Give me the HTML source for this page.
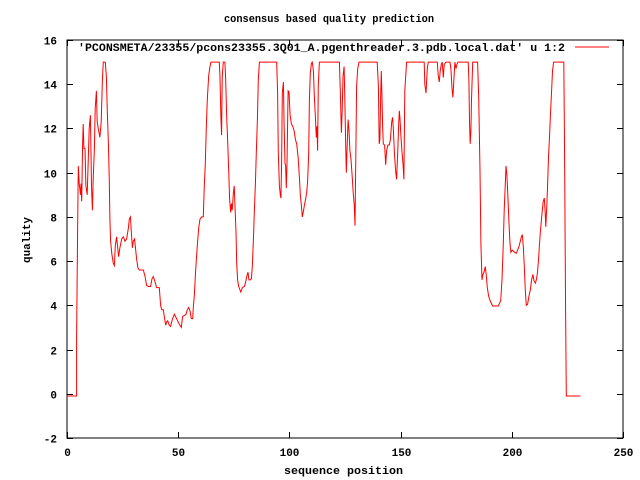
<!DOCTYPE html>
<html><head><meta charset="utf-8"><style>
html,body{margin:0;padding:0;background:#fff;}
svg{display:block;font-family:"Liberation Mono",monospace;font-weight:bold;font-size:11px;}
</style></head><body>
<svg id="chart" width="640" height="480" viewBox="0 0 640 480" xmlns="http://www.w3.org/2000/svg">
<rect width="640" height="480" fill="#fff"/>
<text x="224" y="22" textLength="210" lengthAdjust="spacingAndGlyphs">consensus based quality prediction</text>
<text transform="translate(30,263) rotate(-90)" textLength="46" lengthAdjust="spacingAndGlyphs">quality</text>
<text x="284" y="474" textLength="119" lengthAdjust="spacingAndGlyphs">sequence position</text>
<g id="axes"></g>
<g id="series"></g>
<text x="78" y="51" textLength="487" lengthAdjust="spacingAndGlyphs">'PCONSMETA/23355/pcons23355.3Q01_A.pgenthreader.3.pdb.local.dat' u 1:2</text>
<line x1="575" y1="47" x2="609" y2="47" stroke="#f00" stroke-width="1"/>
</svg>
<script>
const xTicks = [0, 50, 100, 150, 200, 250];
const yTicks = [-2, 0, 2, 4, 6, 8, 10, 12, 14, 16];
const seqPos = [0,4.3,4.3,4.8,5.1,5.5,6.1,6.3,6.6,7.0,7.3,7.6,8.1,8.5,9.1,9.6,10.0,10.5,11.0,11.4,11.8,12.3,12.7,13.2,13.6,14.2,14.8,15.4,15.9,16.3,17.2,17.7,18.1,18.6,19.0,19.3,19.6,20.2,20.8,21.3,21.7,22.3,22.8,23.2,23.8,24.6,25.3,26.1,26.8,27.6,28.0,28.5,29.0,29.4,29.8,30.4,30.9,31.3,31.9,32.5,33.1,34.3,35.1,35.8,36.6,37.6,38.2,38.8,39.6,40.3,41.5,42.1,42.6,43.3,43.9,44.4,44.8,45.3,46.0,46.6,47.5,48.3,49.3,50.2,50.8,51.4,52.0,52.9,53.5,54.1,54.7,55.3,55.9,56.5,56.8,57.3,57.7,58.2,58.6,59.2,59.8,60.5,61.3,61.7,62.2,62.6,63.1,63.7,64.3,64.7,68.5,68.8,69.2,69.5,69.8,70.3,71.0,71.3,71.8,72.2,72.7,73.1,73.6,73.9,74.3,74.8,75.2,75.5,76.0,76.3,76.7,77.2,77.8,78.2,78.8,79.7,80.2,80.8,81.4,81.8,82.4,82.9,83.3,83.8,84.2,84.7,85.1,85.6,86.0,86.5,94.3,94.7,95.0,95.5,95.9,96.2,96.5,96.8,97.3,97.6,98.0,98.3,98.6,98.9,99.4,99.8,100.3,100.9,101.5,102.1,102.7,103.3,103.9,104.5,104.9,105.4,105.8,106.3,106.7,107.3,107.8,108.2,108.7,109.0,109.4,109.9,110.3,110.8,111.2,111.7,112.1,112.4,112.7,113.0,113.5,122.5,122.9,123.4,123.7,124.1,124.6,124.9,125.3,125.6,125.9,126.4,126.8,127.2,127.7,128.3,128.7,129.2,129.5,129.8,130.2,130.7,131.3,139.5,140.0,140.4,140.7,141.0,141.3,141.6,141.9,142.2,142.8,143.3,143.7,144.3,144.9,145.4,146.0,146.4,146.7,147.2,147.8,148.2,148.7,149.1,149.4,149.7,150.2,150.6,151.1,151.5,151.9,152.7,160.6,160.9,161.4,162.0,162.4,166.5,166.9,167.4,167.8,168.3,168.7,169.2,169.6,170.4,172.2,172.6,173.1,173.5,174.0,174.4,174.9,175.3,175.8,180.4,180.7,181.0,181.3,181.6,181.9,182.4,184.6,185.1,185.7,186.1,186.6,187.0,187.5,188.1,188.5,189.0,189.6,190.5,191.4,193.9,195.0,195.6,196.2,196.6,197.1,197.4,197.8,198.3,198.7,199.2,199.6,200.2,200.7,201.3,202.0,202.6,203.2,203.8,204.3,204.7,205.2,205.6,206.1,206.5,207.1,207.7,208.3,208.9,209.5,210.0,210.6,211.0,211.5,212.0,212.4,212.8,213.3,213.7,214.1,214.6,215.0,215.3,215.8,216.1,216.5,217.0,217.4,217.9,218.3,218.8,223.4,223.7,224.2,224.5,230.9];
const quality = [-0.1,-0.1,2.6,7.8,10.3,9.5,9.0,9.5,8.7,11.3,12.2,11.1,11.1,9.4,9.0,10.8,12.0,12.6,9.4,8.3,9.7,11.1,12.9,13.7,12.3,11.9,11.6,12.3,14.2,15,15,14.3,12.8,11.3,9.6,7.9,6.9,6.3,5.9,5.8,6.7,7.1,6.6,6.2,6.6,7.0,7.1,6.9,7.0,7.5,7.9,8.0,7.2,6.6,6.9,7.0,6.5,6.1,5.7,5.6,5.6,5.6,5.3,4.9,4.85,4.85,5.2,5.3,5.05,4.8,4.8,4.0,3.8,3.8,3.4,3.1,3.25,3.3,3.1,3.05,3.4,3.6,3.4,3.2,3.1,3.0,3.5,3.55,3.6,3.8,3.9,3.75,3.4,3.4,3.9,4.5,5.3,6.1,6.7,7.5,7.9,8.0,8.0,9.3,10.4,11.9,13.3,14.4,14.8,15,15,14.3,12.5,11.7,14.3,15,15,14.3,12.5,11.5,10.1,8.8,8.2,8.6,8.3,9.1,9.4,8.6,7.3,5.9,5.15,4.85,4.7,4.6,4.8,4.85,5.0,5.3,5.5,5.15,5.15,5.2,5.75,6.95,8.2,9.5,10.9,12.4,14.2,15,15,13.6,10.9,9.4,9.0,8.85,10.4,13.6,14.1,12.2,10.4,10.35,9.3,10.4,13.7,13.65,12.6,12.2,12.1,11.9,11.5,11.3,10.7,9.8,9.0,8.5,8.0,8.25,8.5,8.8,9.1,9.6,10.9,13.3,14.5,14.95,15,14.6,13.5,12.5,11.6,12.1,11.0,14.0,15,15,13.7,11.8,12.7,14.35,14.8,13.4,11.2,10.0,11.0,12.4,11.9,11.0,10.6,9.75,9.1,8.5,7.6,10.3,13.9,14.7,15,15,13.9,11.3,11.5,13.3,14.6,13.6,12.1,11.3,11.25,10.35,11.0,11.25,11.25,11.5,12.3,12.5,12.0,10.9,10.05,9.7,10.9,12.1,12.8,12.5,11.6,11.0,10.4,9.7,13.7,15,15,14.0,13.6,14.7,15,15,14.4,14.1,14.6,14.9,15,14.3,14.9,15,15,14.7,13.8,13.4,14.3,15,14.7,14.9,15,15,14.2,12.3,11.3,11.9,13.3,15,15,13.4,10.1,6.8,5.15,5.4,5.5,5.75,5.4,4.8,4.4,4.15,3.97,3.97,4.2,5.15,6.8,8.3,9.6,10.3,9.9,8.8,7.8,6.8,6.4,6.5,6.45,6.4,6.35,6.5,6.65,6.9,7.1,7.2,6.6,5.75,4.6,4.0,4.05,4.4,4.7,5.15,5.4,5.1,5.0,5.15,5.45,6.05,6.7,7.3,7.85,8.3,8.7,8.85,8.2,7.55,8.6,9.45,10.7,11.7,12.7,13.7,14.6,15,15,11.3,3.7,-0.1,-0.1];
const L=67,R=623,T=40,B=438,XMIN=0,XMAX=250,YMIN=-2,YMAX=16;
function xs(v){return L+(v-XMIN)/(XMAX-XMIN)*(R-L);}
function ys(v){return B-(v-YMIN)/(YMAX-YMIN)*(B-T);}
const NS="http://www.w3.org/2000/svg";
const axes=document.getElementById('axes');
function mk(tag,attrs,parent){const e=document.createElementNS(NS,tag);for(const k in attrs)e.setAttribute(k,attrs[k]);parent.appendChild(e);return e;}
const frame=mk('rect',{x:L,y:T,width:R-L,height:B-T,fill:'none',stroke:'#000','stroke-width':1},axes);


yTicks.forEach(v=>{
  const y=Math.round(ys(v))+0.5;
  const t1=mk('line',{x1:L,y1:y,x2:L+6,y2:y,stroke:'#000'},axes);
  
  
  const t2=mk('line',{x1:R-6,y1:y,x2:R,y2:y,stroke:'#000'},axes);
  
  
  const lb=mk('text',{x:57,y:y+4,'text-anchor':'end'},axes);
  lb.textContent=v;
  
  
});
xTicks.forEach(v=>{
  const x=Math.round(xs(v))+0.5;
  const t1=mk('line',{x1:x,y1:B,x2:x,y2:B-6,stroke:'#000'},axes);
  
  
  const t2=mk('line',{x1:x,y1:T,x2:x,y2:T+6,stroke:'#000'},axes);
  
  
  const lb=mk('text',{x:x,y:456,'text-anchor':'middle'},axes);
  lb.textContent=v;
  
  
});
const pts=seqPos.map((p,i)=>xs(p).toFixed(1)+','+ys(quality[i]).toFixed(1)).join(' ');
const line=mk('polyline',{points:pts,fill:'none',stroke:'#f00','stroke-width':1},document.getElementById('series'));


</script>
</body></html>
